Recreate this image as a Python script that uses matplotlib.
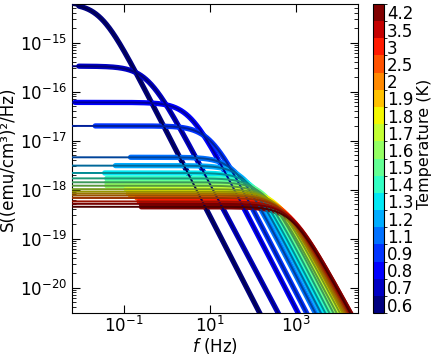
import numpy as np
import matplotlib
matplotlib.use('Agg')
import matplotlib.pyplot as plt
from matplotlib.colors import ListedColormap, BoundaryNorm
from matplotlib.cm import ScalarMappable
from matplotlib.ticker import LogLocator, NullLocator, NullFormatter

# temperatures (K) and the Lorentzian fit parameters
temps = [0.6, 0.7, 0.8, 0.9, 1.1, 1.2, 1.3, 1.4, 1.5, 1.6, 1.7, 1.8, 1.9, 2.0, 2.5, 3.0, 3.5, 4.2]
log_S0 = [-14.20, -15.48, -16.22, -16.70, -17.34, -17.51, -17.66, -17.77, -17.85,
          -17.92, -17.99, -18.04, -18.08, -18.12, -18.17, -18.24, -18.29, -18.35]
log_fc = [-1.54, -0.45, 0.52, 1.00, 1.58, 1.81, 2.00, 2.16, 2.30,
          2.37, 2.49, 2.58, 2.60, 2.67, 2.74, 2.81, 2.87, 2.91]
alpha = [1.71, 1.66, 1.70, 1.70, 1.70, 1.70, 1.70, 1.70, 1.70,
         1.65, 1.65, 1.65, 1.60, 1.60, 1.60, 1.60, 1.60, 1.60]
# lowest measured frequency of each spectrum (log10 Hz)
log_f_start = [-2.05, -2.05, -2.14, -1.67, -0.85, -1.2, -1.45, -1.4, -1.4,
               -1.4, -0.95, -0.9, -0.9, -0.85, -0.7, -0.65, -0.6, -0.6]
log_f_stop = 4.3

colors = plt.cm.jet(np.linspace(0, 1, len(temps)))
f = np.logspace(-2.4, 4.6, 700)

fig = plt.figure(figsize=(4.36, 3.55), dpi=100)
ax = fig.add_axes([0.165, 0.118, 0.657, 0.871])
cax = fig.add_axes([0.855, 0.118, 0.0266, 0.871])

# measured spectra (drawn as thick bands)
for i in range(len(temps)):
    S = 10**log_S0[i] / (1 + (f / 10**log_fc[i])**alpha[i])
    m = (f >= 10**log_f_start[i]) & (f <= 10**log_f_stop)
    ax.plot(f[m], S[m], color=colors[i], lw=3.8, solid_capstyle='round', zorder=2)

# fits
for i in range(len(temps)):
    S = 10**log_S0[i] / (1 + (f / 10**log_fc[i])**alpha[i])
    ax.plot(f, S, color=colors[i][:3] * 0.6, lw=1.4, zorder=3)

ax.set_xscale('log')
ax.set_yscale('log')
ax.set_xlim(10**-2.21, 10**4.45)
ax.set_ylim(10**-20.52, 10**-14.21)
ax.set_xticks([1e-1, 1e1, 1e3])
ax.xaxis.set_minor_locator(NullLocator())
ax.set_yticks([1e-20, 1e-19, 1e-18, 1e-17, 1e-16, 1e-15])
ax.yaxis.set_minor_locator(LogLocator(base=10, subs=np.arange(2, 10), numticks=15))
ax.yaxis.set_minor_formatter(NullFormatter())
ax.tick_params(which='both', direction='in', top=True, right=True, labelsize=12)
ax.tick_params(which='major', length=6)
ax.tick_params(which='minor', length=3)
ax.tick_params(axis='x', pad=2)
ax.set_xlabel('$f$ (Hz)', fontsize=12, labelpad=0)
ax.set_ylabel('S((emu/cm³)²/Hz)', fontsize=12, labelpad=2)

cmap = ListedColormap(colors)
norm = BoundaryNorm(np.arange(len(temps) + 1), cmap.N)
cb = fig.colorbar(ScalarMappable(norm=norm, cmap=cmap), cax=cax,
                  ticks=np.arange(len(temps)) + 0.5)
cb.set_ticklabels([f"{t:g}" for t in temps])
cb.ax.tick_params(length=0, labelsize=12, pad=2)
fig.text(0.974, 0.594, 'Temperature (K)', rotation=90, ha='center', va='center', fontsize=11.5)

fig.savefig('out.png', dpi=100)
